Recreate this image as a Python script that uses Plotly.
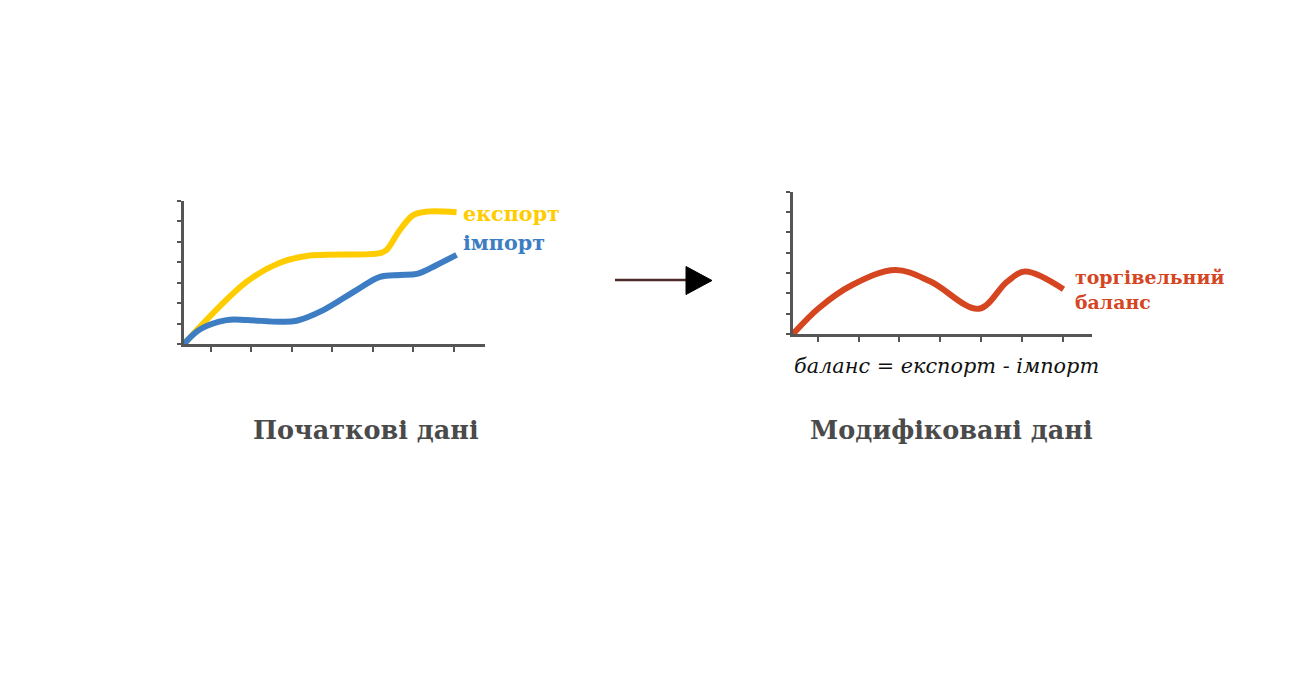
import plotly.graph_objects as go

W, H = 1308, 679

# ---- data ----
export_x = [0, 1.55, 2.37, 3.03, 4.84, 5.00, 5.33, 5.66, 5.99, 6.73]
export_y = [0, 3.05, 3.98, 4.31, 4.45, 4.60, 5.58, 6.31, 6.48, 6.45]

import_x = [0, 0.40, 1.05, 1.55, 2.37, 2.78, 3.44, 4.26, 4.84, 5.33, 5.75, 6.24, 6.73]
import_y = [0, 0.72, 1.17, 1.17, 1.09, 1.14, 1.66, 2.64, 3.29, 3.38, 3.43, 3.87, 4.36]

balance_x = [0, 0.63, 1.45, 2.51, 3.37, 4.55, 5.25, 5.69, 6.63]
balance_y = [0, 1.27, 2.41, 3.15, 2.58, 1.24, 2.58, 3.07, 2.20]

label_export = "експорт"
label_import = "імпорт"
label_balance = "торгівельний<br>баланс"
formula = "баланс = експорт - імпорт"
title_left = "Початкові дані"
title_right = "Модифіковані дані"

YELLOW = "#FFCC00"
BLUE = "#3D7DC3"
RED = "#D5451F"
AXIS = "#555555"
TITLE = "#4A4A4A"


def px(x):
    return x / W


def py(y):
    return 1 - y / H


fig = go.Figure()
fig.add_trace(go.Scatter(x=export_x, y=export_y, mode="lines", xaxis="x", yaxis="y",
                         line=dict(color=YELLOW, width=6, shape="spline", smoothing=1.0)))
fig.add_trace(go.Scatter(x=import_x, y=import_y, mode="lines", xaxis="x", yaxis="y",
                         line=dict(color=BLUE, width=6, shape="spline", smoothing=1.0)))
fig.add_trace(go.Scatter(x=balance_x, y=balance_y, mode="lines", xaxis="x2", yaxis="y2",
                         line=dict(color=RED, width=6, shape="spline", smoothing=1.0)))

ax_common = dict(showgrid=False, zeroline=False, showline=True, linecolor=AXIS, linewidth=2.5,
                 ticks="outside", tickcolor=AXIS, tickwidth=2, showticklabels=False,
                 fixedrange=True)

fig.update_layout(
    width=W, height=H,
    margin=dict(l=0, r=0, t=0, b=0),
    paper_bgcolor="white", plot_bgcolor="white",
    showlegend=False,
    xaxis=dict(domain=[px(184), px(485)], range=[0, (485 - 184) / 40.5],
               tickmode="linear", tick0=0.66, dtick=1, ticklen=5, anchor="y", **ax_common),
    yaxis=dict(domain=[py(344), py(201)], range=[0, 7],
               tickmode="linear", tick0=1, dtick=1, ticklen=4, anchor="x", **ax_common),
    xaxis2=dict(domain=[px(793), px(1092)], range=[0, (1092 - 793) / 40.8],
                tickmode="linear", tick0=0.61, dtick=1, ticklen=5, anchor="y2", **ax_common),
    yaxis2=dict(domain=[py(334), py(191.7)], range=[0, 7],
                tickmode="linear", tick0=1, dtick=1, ticklen=4, anchor="x2", **ax_common),
)

ann = []
ann.append(dict(text=label_export, x=px(461), y=py(214), xanchor="left", yanchor="middle",
                font=dict(family="DejaVu Serif", size=20.7, color=YELLOW, weight="bold")))
ann.append(dict(text=label_import, x=px(461), y=py(243), xanchor="left", yanchor="middle",
                font=dict(family="DejaVu Serif", size=20.7, color=BLUE, weight="bold")))
ann.append(dict(text=label_balance, x=px(1073), y=py(289), xanchor="left", yanchor="middle",
                align="left",
                font=dict(family="DejaVu Serif", size=18.9, color=RED, weight="bold")))
ann.append(dict(text=formula, x=px(792), y=py(366), xanchor="left", yanchor="middle",
                font=dict(family="DejaVu Serif", size=20.8, color="#111111", style="italic")))
ann.append(dict(text=title_left, x=px(366), y=py(430), xanchor="center", yanchor="middle",
                font=dict(family="DejaVu Serif", size=25.5, color=TITLE, weight="bold")))
ann.append(dict(text=title_right, x=px(951), y=py(430), xanchor="center", yanchor="middle",
                font=dict(family="DejaVu Serif", size=25.5, color=TITLE, weight="bold")))
for a in ann:
    a.update(xref="paper", yref="paper", showarrow=False)
fig.update_layout(annotations=ann)

# arrow between the charts
fig.add_shape(type="line", xref="paper", yref="paper",
              x0=px(615), x1=px(690), y0=py(280), y1=py(280),
              line=dict(color="#4D2B2B", width=2.5))
fig.add_shape(type="path", xref="paper", yref="paper",
              path=f"M {px(686)},{py(266.5)} L {px(712)},{py(280.5)} L {px(686)},{py(294.5)} Z",
              fillcolor="black", line=dict(color="black", width=1))

fig.write_html("out.html", config={"displayModeBar": False})
